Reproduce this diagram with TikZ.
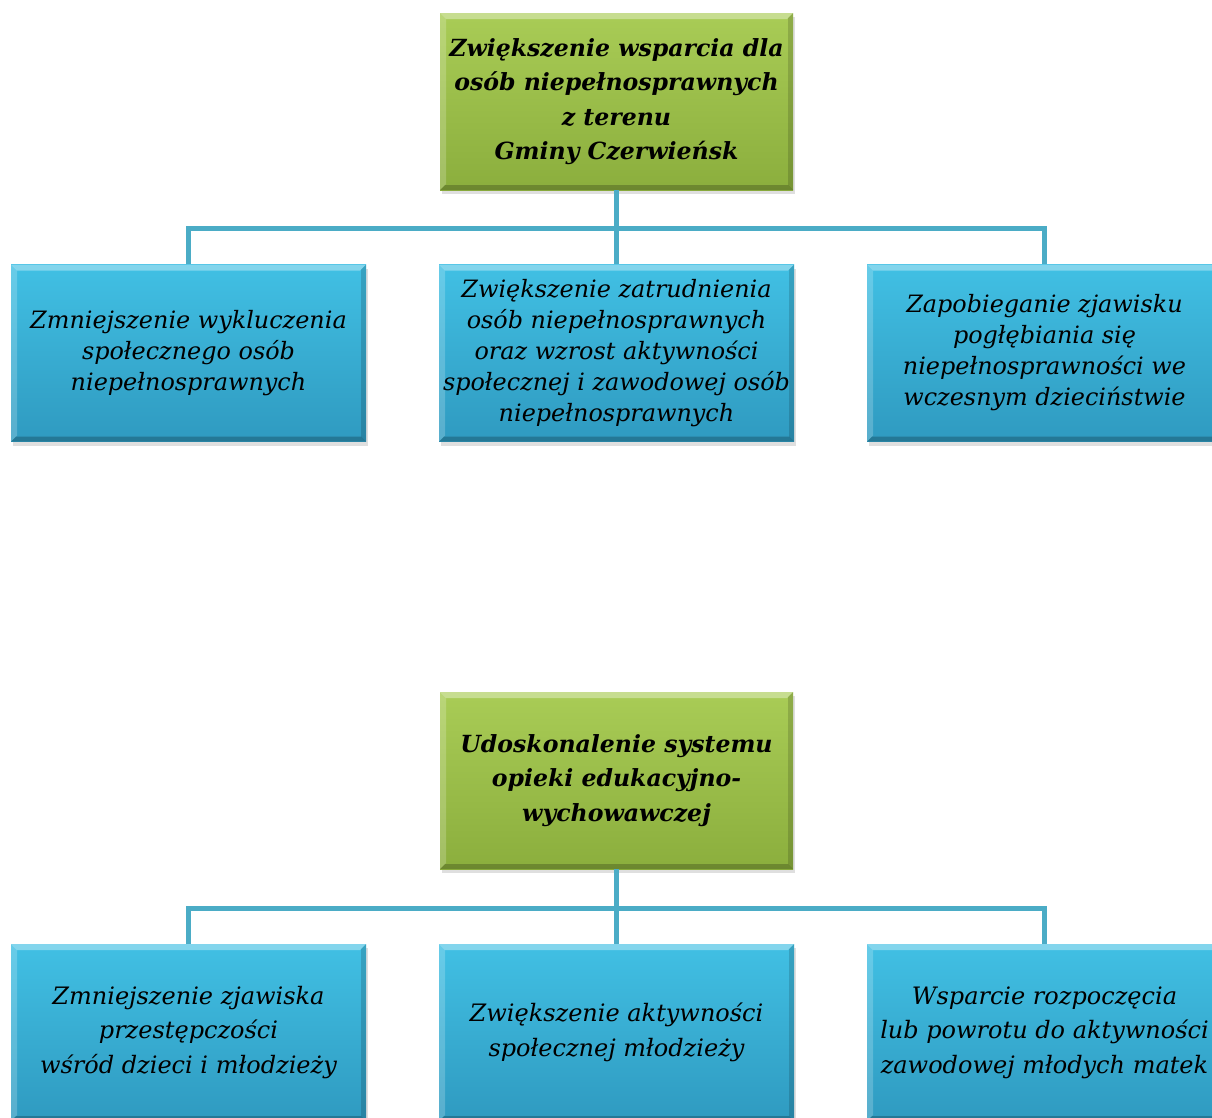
\documentclass[tikz,border=0pt]{standalone}
\usepackage{fontspec}
\setmainfont{DejaVu Serif}
\usetikzlibrary{shadows}

\definecolor{ggreentop}{HTML}{A9CC56}
\definecolor{ggreenbot}{HTML}{8BAE3D}
\definecolor{bbluetop}{HTML}{41C0E4}
\definecolor{bbluebot}{HTML}{2F9AC0}
\definecolor{llink}{HTML}{4BACC6}

\tikzset{
  bevel/.style={path picture={
    \coordinate (nw) at (path picture bounding box.north west);
    \coordinate (ne) at (path picture bounding box.north east);
    \coordinate (sw) at (path picture bounding box.south west);
    \coordinate (se) at (path picture bounding box.south east);
    \fill[white,opacity=0.35] (nw) -- (ne) -- ([shift={(-6pt,-6pt)}]ne) -- ([shift={(6pt,-6pt)}]nw) -- cycle;
    \fill[white,opacity=0.2] (nw) -- ([shift={(6pt,-6pt)}]nw) -- ([shift={(6pt,6pt)}]sw) -- (sw) -- cycle;
    \fill[black,opacity=0.22] (sw) -- (se) -- ([shift={(-5pt,5pt)}]se) -- ([shift={(5pt,5pt)}]sw) -- cycle;
    \fill[black,opacity=0.15] (ne) -- (se) -- ([shift={(-5pt,5pt)}]se) -- ([shift={(-5pt,-5pt)}]ne) -- cycle;
  }},
  goal/.style={bevel, top color=ggreentop, bottom color=ggreenbot,
    minimum width=353pt, minimum height=177pt, inner sep=0pt, align=center,
    drop shadow={shadow xshift=2pt,shadow yshift=-4pt,opacity=0.25},
    font=\fontsize{23.6}{34.5}\selectfont\bfseries\itshape},
  aim/.style={goal, top color=bbluetop, bottom color=bbluebot,
    minimum width=355pt, font=\fontsize{23.9}{31}\selectfont\itshape},
  aimlow/.style={aim, font=\fontsize{24}{34.5}\selectfont\itshape},
  link/.style={draw=llink, line width=5pt},
}

\begin{document}
\begin{tikzpicture}[x=1pt,y=1pt]
  \useasboundingbox[fill=white] (0,0) rectangle (1212,-1117);

  % first tree
  \node[goal] (wsparcie) at (616.5,-101.5) {Zwiększenie wsparcia dla\\osób niepełnosprawnych\\z terenu\\Gminy Czerwieńsk};
  \coordinate (bus1) at (616.5,-228);
  \draw[link] (wsparcie.south) -- (bus1);
  \node[aim] (wykluczenie) at (188.5,-353) {Zmniejszenie wykluczenia\\społecznego osób\\niepełnosprawnych};
  \node[aim] (zatrudnienie) at (616.5,-353) {Zwiększenie zatrudnienia\\osób niepełnosprawnych\\oraz wzrost aktywności\\społecznej i zawodowej osób\\niepełnosprawnych};
  \node[aim] (zapobieganie) at (1044.5,-353) {Zapobieganie zjawisku\\pogłębiania się\\niepełnosprawności we\\wczesnym dzieciństwie};
  \draw[link] (wykluczenie.north) |- (bus1) -| (zapobieganie.north);
  \draw[link] (bus1) -- (zatrudnienie.north);

  % second tree
  \node[goal] (opieka) at (616.5,-780.5) {Udoskonalenie systemu\\opieki edukacyjno-\\wychowawczej};
  \coordinate (bus2) at (616.5,-908);
  \draw[link] (opieka.south) -- (bus2);
  \node[aimlow] (przestepczosc) at (188.5,-1032.5) {Zmniejszenie zjawiska\\przestępczości\\wśród dzieci i młodzieży};
  \node[aimlow] (mlodziez) at (616.5,-1032.5) {Zwiększenie aktywności\\społecznej młodzieży};
  \node[aimlow] (matki) at (1044.5,-1032.5) {Wsparcie rozpoczęcia\\lub powrotu do aktywności\\zawodowej młodych matek};
  \draw[link] (przestepczosc.north) |- (bus2) -| (matki.north);
  \draw[link] (bus2) -- (mlodziez.north);
\end{tikzpicture}
\end{document}
